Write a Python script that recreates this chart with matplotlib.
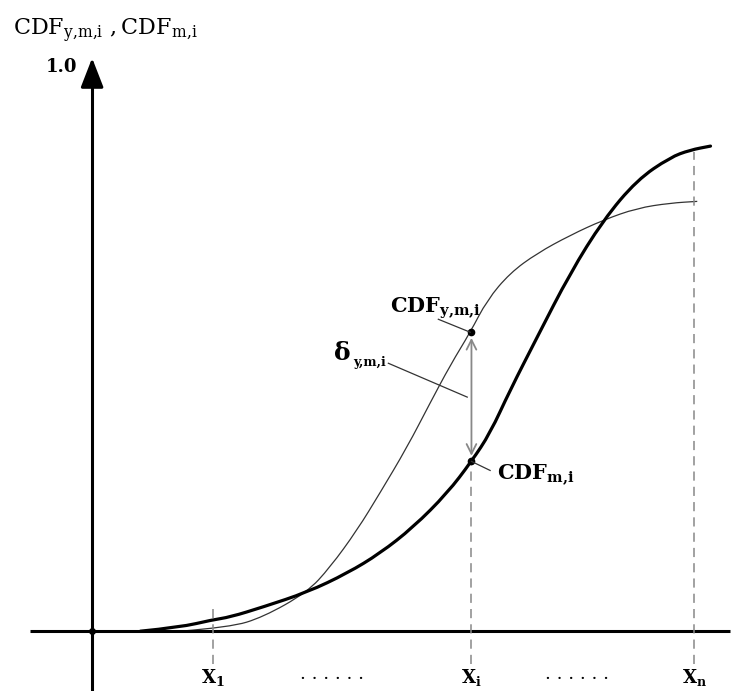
import matplotlib
matplotlib.use("Agg")
import matplotlib.pyplot as plt
from matplotlib.path import Path
from matplotlib.patches import PathPatch

plt.rcParams['font.family'] = ['DejaVu Serif']
plt.rcParams['mathtext.fontset'] = 'dejavuserif'

# curves (x: X_n = 1.0, y: 1.0 at the top label)
thick_x = [0.080, 0.146, 0.199, 0.229, 0.284, 0.357, 0.424, 0.478, 0.533, 0.590, 0.630,
           0.661, 0.694, 0.739, 0.794, 0.849, 0.905, 0.960, 0.993, 1.027]
thick_y = [0.0, 0.007, 0.020, 0.025, 0.043, 0.069, 0.103, 0.138, 0.184, 0.245, 0.301,
           0.351, 0.427, 0.521, 0.635, 0.729, 0.800, 0.840, 0.853, 0.860]
thin_x = [0.146, 0.229, 0.284, 0.357, 0.395, 0.440, 0.478, 0.523, 0.561, 0.595, 0.628,
          0.656, 0.694, 0.739, 0.794, 0.849, 0.905, 0.960, 1.005]
thin_y = [0.0, 0.007, 0.025, 0.069, 0.113, 0.179, 0.245, 0.326, 0.404, 0.472, 0.530,
          0.587, 0.635, 0.670, 0.702, 0.729, 0.750, 0.759, 0.762]

x_ticks = [0.2, 0.63, 1.0]
x_tick_labels = [r'$\mathbf{X}_{\mathbf{1}}$', r'$\mathbf{X}_{\mathbf{i}}$', r'$\mathbf{X}_{\mathbf{n}}$']
dots_x = [0.399, 0.805]
xi = 0.63
cdf_y_i = 0.530
cdf_m_i = 0.301


# smooth line through the read points (quadratic segments between midpoints)
def smooth_path(xs, ys):
    pts = list(zip(xs, ys))
    verts = [pts[0]]
    codes = [Path.MOVETO]
    for i in range(1, len(pts) - 1):
        mid = ((pts[i][0] + pts[i + 1][0]) / 2, (pts[i][1] + pts[i + 1][1]) / 2)
        verts += [pts[i], mid]
        codes += [Path.CURVE3, Path.CURVE3]
    verts.append(pts[-1])
    codes.append(Path.LINETO)
    return Path(verts, codes)


def main():
    fig = plt.figure(figsize=(7.4, 6.91), dpi=100)
    ax = fig.add_axes([0, 0, 1, 1])
    ax.set_xlim(-0.153, 1.076)
    ax.set_ylim(-0.106, 1.119)
    ax.axis('off')

    # axes with arrow heads
    ax.plot([-0.103, 1.06], [0, 0], color='black', lw=2.2, solid_capstyle='butt')
    ax.plot([0, 0], [-0.12, 1.0], color='black', lw=2.2, solid_capstyle='butt')
    ax.annotate('', xy=(1.095, 0), xytext=(1.045, 0),
                arrowprops=dict(arrowstyle='-|>,head_length=0.9,head_width=0.35',
                                color='black', lw=2.2, mutation_scale=20))
    ax.annotate('', xy=(0, 1.021), xytext=(0, 0.97),
                arrowprops=dict(arrowstyle='-|>,head_length=0.9,head_width=0.35',
                                color='black', lw=2.2, mutation_scale=20))
    ax.plot([0], [0], 'o', color='black', ms=4)

    # dashed guides
    dash = dict(color='#888888', lw=1.1, ls=(0, (6, 4)))
    ax.plot([x_ticks[0]] * 2, [-0.058, 0.046], **dash)
    ax.plot([x_ticks[1]] * 2, [-0.058, cdf_m_i], **dash)
    ax.plot([x_ticks[2]] * 2, [-0.058, 0.849], **dash)

    # curves
    ax.add_patch(PathPatch(smooth_path(thin_x, thin_y), facecolor='none',
                           edgecolor='#333333', lw=0.9))
    ax.add_patch(PathPatch(smooth_path(thick_x, thick_y), facecolor='none',
                           edgecolor='black', lw=2.3, capstyle='round'))

    # delta arrow between the two CDFs
    ax.annotate('', xy=(xi, cdf_m_i + 0.01), xytext=(xi, cdf_y_i - 0.01),
                arrowprops=dict(arrowstyle='<->,head_length=0.5,head_width=0.25',
                                color='#888888', lw=1.3, mutation_scale=14,
                                shrinkA=0, shrinkB=0))
    ax.plot([xi, xi], [cdf_y_i, cdf_m_i], 'o', color='black', ms=4.5)

    # leaders
    ax.plot([0.575, 0.628], [0.553, cdf_y_i], color='#333333', lw=0.9)
    ax.plot([0.63, 0.661], [cdf_m_i, 0.285], color='#333333', lw=0.9)
    ax.plot([0.492, 0.623], [0.475, 0.415], color='#333333', lw=0.9)

    # labels
    ax.text(0.495, 0.564, r'$\mathbf{CDF}_{\mathbf{y{,}m{,}i}}$', fontsize=15,
            ha='left', va='baseline')
    ax.text(0.673, 0.268, r'$\mathbf{CDF}_{\mathbf{m{,}i}}$', fontsize=15,
            ha='left', va='baseline')
    ax.text(0.40, 0.480, r'$\mathbf{\delta}$', fontsize=18, ha='left', va='baseline')
    ax.text(0.434, 0.470, 'y,m,i', fontsize=9, fontweight='bold', ha='left', va='baseline')

    ax.text(-0.025, 1.0, '1.0', fontsize=13, fontweight='bold', ha='right', va='center')
    ax.text(-0.131, 1.057, r'$\mathrm{CDF}_{\mathrm{y{,}m{,}i}}\ \mathrm{,CDF}_{\mathrm{m{,}i}}$',
            fontsize=16, ha='left', va='baseline')

    for xt, lab in zip(x_ticks, x_tick_labels):
        ax.text(xt, -0.063, lab, fontsize=13, ha='center', va='top')
    for dx in dots_x:
        ax.text(dx, -0.075, '. . . . . .', fontsize=13, ha='center', va='center')

    fig.savefig('out.png', dpi=100)


if __name__ == '__main__':
    main()
